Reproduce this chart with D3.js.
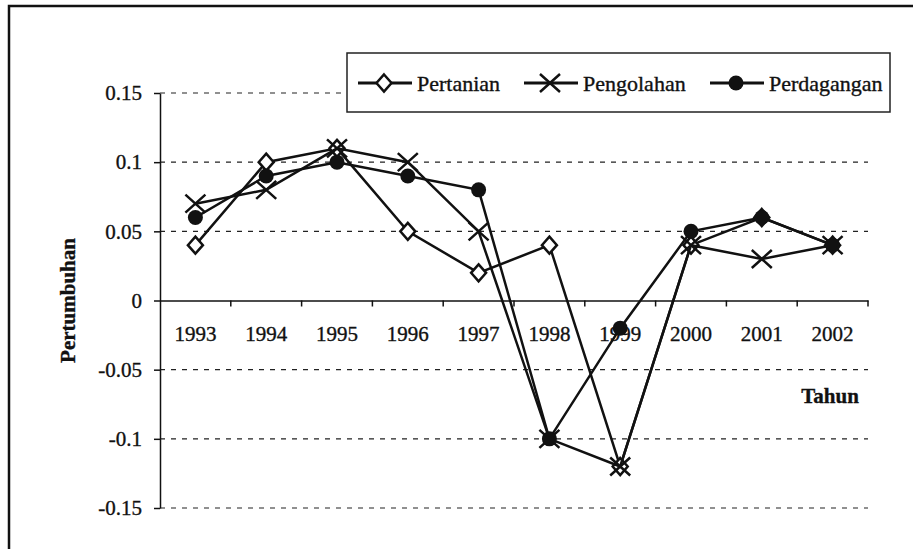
<!DOCTYPE html>
<html>
<head>
<meta charset="utf-8">
<script src="https://cdn.jsdelivr.net/npm/d3@7"></script>
<style>
  body { margin: 0; background: #fff; }
  svg text { font-family: "Liberation Serif", "Times New Roman", serif; fill: #111; stroke: #111; stroke-width: 0.35px; }
</style>
</head>
<body>
<div id="container"></div>
<script>
(function(){
  "use strict";
  var years = ["1993", "1994", "1995", "1996", "1997", "1998", "1999", "2000", "2001", "2002"];
  var pertanian   = [0.04, 0.10, 0.11, 0.05, 0.02, 0.04, -0.12, 0.04, 0.06, 0.04];
  var pengolahan  = [0.07, 0.08, 0.11, 0.10, 0.05, -0.10, -0.12, 0.04, 0.03, 0.04];
  var perdagangan = [0.06, 0.09, 0.10, 0.09, 0.08, -0.10, -0.02, 0.05, 0.06, 0.04];
  var seriesNames = ["Pertanian", "Pengolahan", "Perdagangan"];
  var yTicks = [-0.15, -0.1, -0.05, 0, 0.05, 0.1, 0.15];

  var width = 913, height = 549;
  var plot = { left: 160, right: 868, top: 93, bottom: 508 };

  var svg = d3.select("#container").append("svg")
      .attr("width", width)
      .attr("height", height);

  // outer frame (only top and left edges show in the scan)
  svg.append("path")
      .attr("d", "M9," + height + "V6H" + width)
      .attr("fill", "none")
      .attr("stroke", "#111")
      .attr("stroke-width", 2.5);

  var xScale = d3.scaleBand().domain(years).range([plot.left, plot.right]);
  var yScale = d3.scaleLinear().domain([-0.15, 0.15]).range([plot.bottom, plot.top]);
  var zeroY = yScale(0);

  // dashed grid lines
  svg.append("g").selectAll("line")
      .data(yTicks.filter(function(v) { return v !== 0; }))
      .enter().append("line")
      .attr("x1", plot.left).attr("x2", plot.right)
      .attr("y1", function(v) { return yScale(v); })
      .attr("y2", function(v) { return yScale(v); })
      .attr("stroke", "#222")
      .attr("stroke-width", 1.2)
      .attr("stroke-dasharray", "5,6");

  var yAxis = d3.axisLeft(yScale)
      .tickValues(yTicks)
      .tickFormat(function(v) { return String(v); })
      .tickSize(6)
      .tickSizeOuter(0)
      .tickPadding(12);
  var yAxisGroup = svg.append("g")
      .attr("transform", "translate(" + plot.left + ",0)")
      .call(yAxis);
  yAxisGroup.selectAll("text").style("font-size", "21px");
  yAxisGroup.selectAll("path, line").attr("stroke", "#111").attr("stroke-width", 1.5);

  // x axis sits on zero, labels under it, ticks between categories
  var xAxis = d3.axisBottom(xScale).tickSize(0).tickPadding(26);
  var xAxisGroup = svg.append("g")
      .attr("transform", "translate(0," + zeroY + ")")
      .call(xAxis);
  xAxisGroup.selectAll("text").style("font-size", "21px");
  xAxisGroup.select(".domain").attr("stroke", "#111").attr("stroke-width", 1.5);
  xAxisGroup.selectAll(".sep")
      .data(years.slice(1).concat(["end"]))
      .enter().append("line")
      .attr("class", "sep")
      .attr("x1", function(d, i) { return plot.left + xScale.step() * (i + 1); })
      .attr("x2", function(d, i) { return plot.left + xScale.step() * (i + 1); })
      .attr("y1", 0).attr("y2", 6)
      .attr("stroke", "#111")
      .attr("stroke-width", 1.5);

  svg.append("text")
      .attr("transform", "translate(68," + zeroY + ") rotate(-90)")
      .attr("text-anchor", "middle")
      .attr("dy", "0.35em")
      .style("font-size", "21px")
      .style("font-weight", "bold")
      .text("Pertumbuhan");

  svg.append("text")
      .attr("x", 830).attr("y", 403)
      .attr("text-anchor", "middle")
      .style("font-size", "21px")
      .style("font-weight", "bold")
      .text("Tahun");

  // markers
  function drawMarker(g, kind) {
    if (kind === 0) {
      g.append("path")
          .attr("d", "M0,-8.5L7.5,0L0,8.5L-7.5,0Z")
          .attr("fill", "#fff").attr("stroke", "#111").attr("stroke-width", 2.5);
    } else if (kind === 1) {
      g.append("path")
          .attr("d", "M-10,-9L10,9M-10,9L10,-9")
          .attr("fill", "none").attr("stroke", "#111").attr("stroke-width", 2.5);
    } else {
      g.append("circle").attr("r", 7.5).attr("fill", "#111");
    }
  }

  var line = d3.line()
      .x(function(d, i) { return xScale(years[i]) + xScale.bandwidth() / 2; })
      .y(function(d) { return yScale(d); });

  [pertanian, pengolahan, perdagangan].forEach(function(values, k) {
    svg.append("path")
        .attr("d", line(values))
        .attr("fill", "none")
        .attr("stroke", "#111")
        .attr("stroke-width", 2.5);
    values.forEach(function(v, i) {
      var g = svg.append("g").attr("transform", "translate(" +
          (xScale(years[i]) + xScale.bandwidth() / 2) + "," + yScale(v) + ")");
      drawMarker(g, k);
    });
  });

  // legend
  var legend = svg.append("g");
  legend.append("rect")
      .attr("x", 347).attr("y", 53)
      .attr("width", 543).attr("height", 59)
      .attr("fill", "#fff")
      .attr("stroke", "#222")
      .attr("stroke-width", 1.5);
  var legendX = [358, 524, 710];
  seriesNames.forEach(function(name, k) {
    var x0 = legendX[k];
    legend.append("line")
        .attr("x1", x0).attr("x2", x0 + 54)
        .attr("y1", 83).attr("y2", 83)
        .attr("stroke", "#111").attr("stroke-width", 3);
    drawMarker(legend.append("g").attr("transform", "translate(" + (x0 + 26) + ",83)"), k);
    legend.append("text")
        .attr("x", x0 + 59).attr("y", 83)
        .attr("dy", "0.35em")
        .style("font-size", "22px")
        .text(name);
  });
})();
</script>
</body>
</html>
